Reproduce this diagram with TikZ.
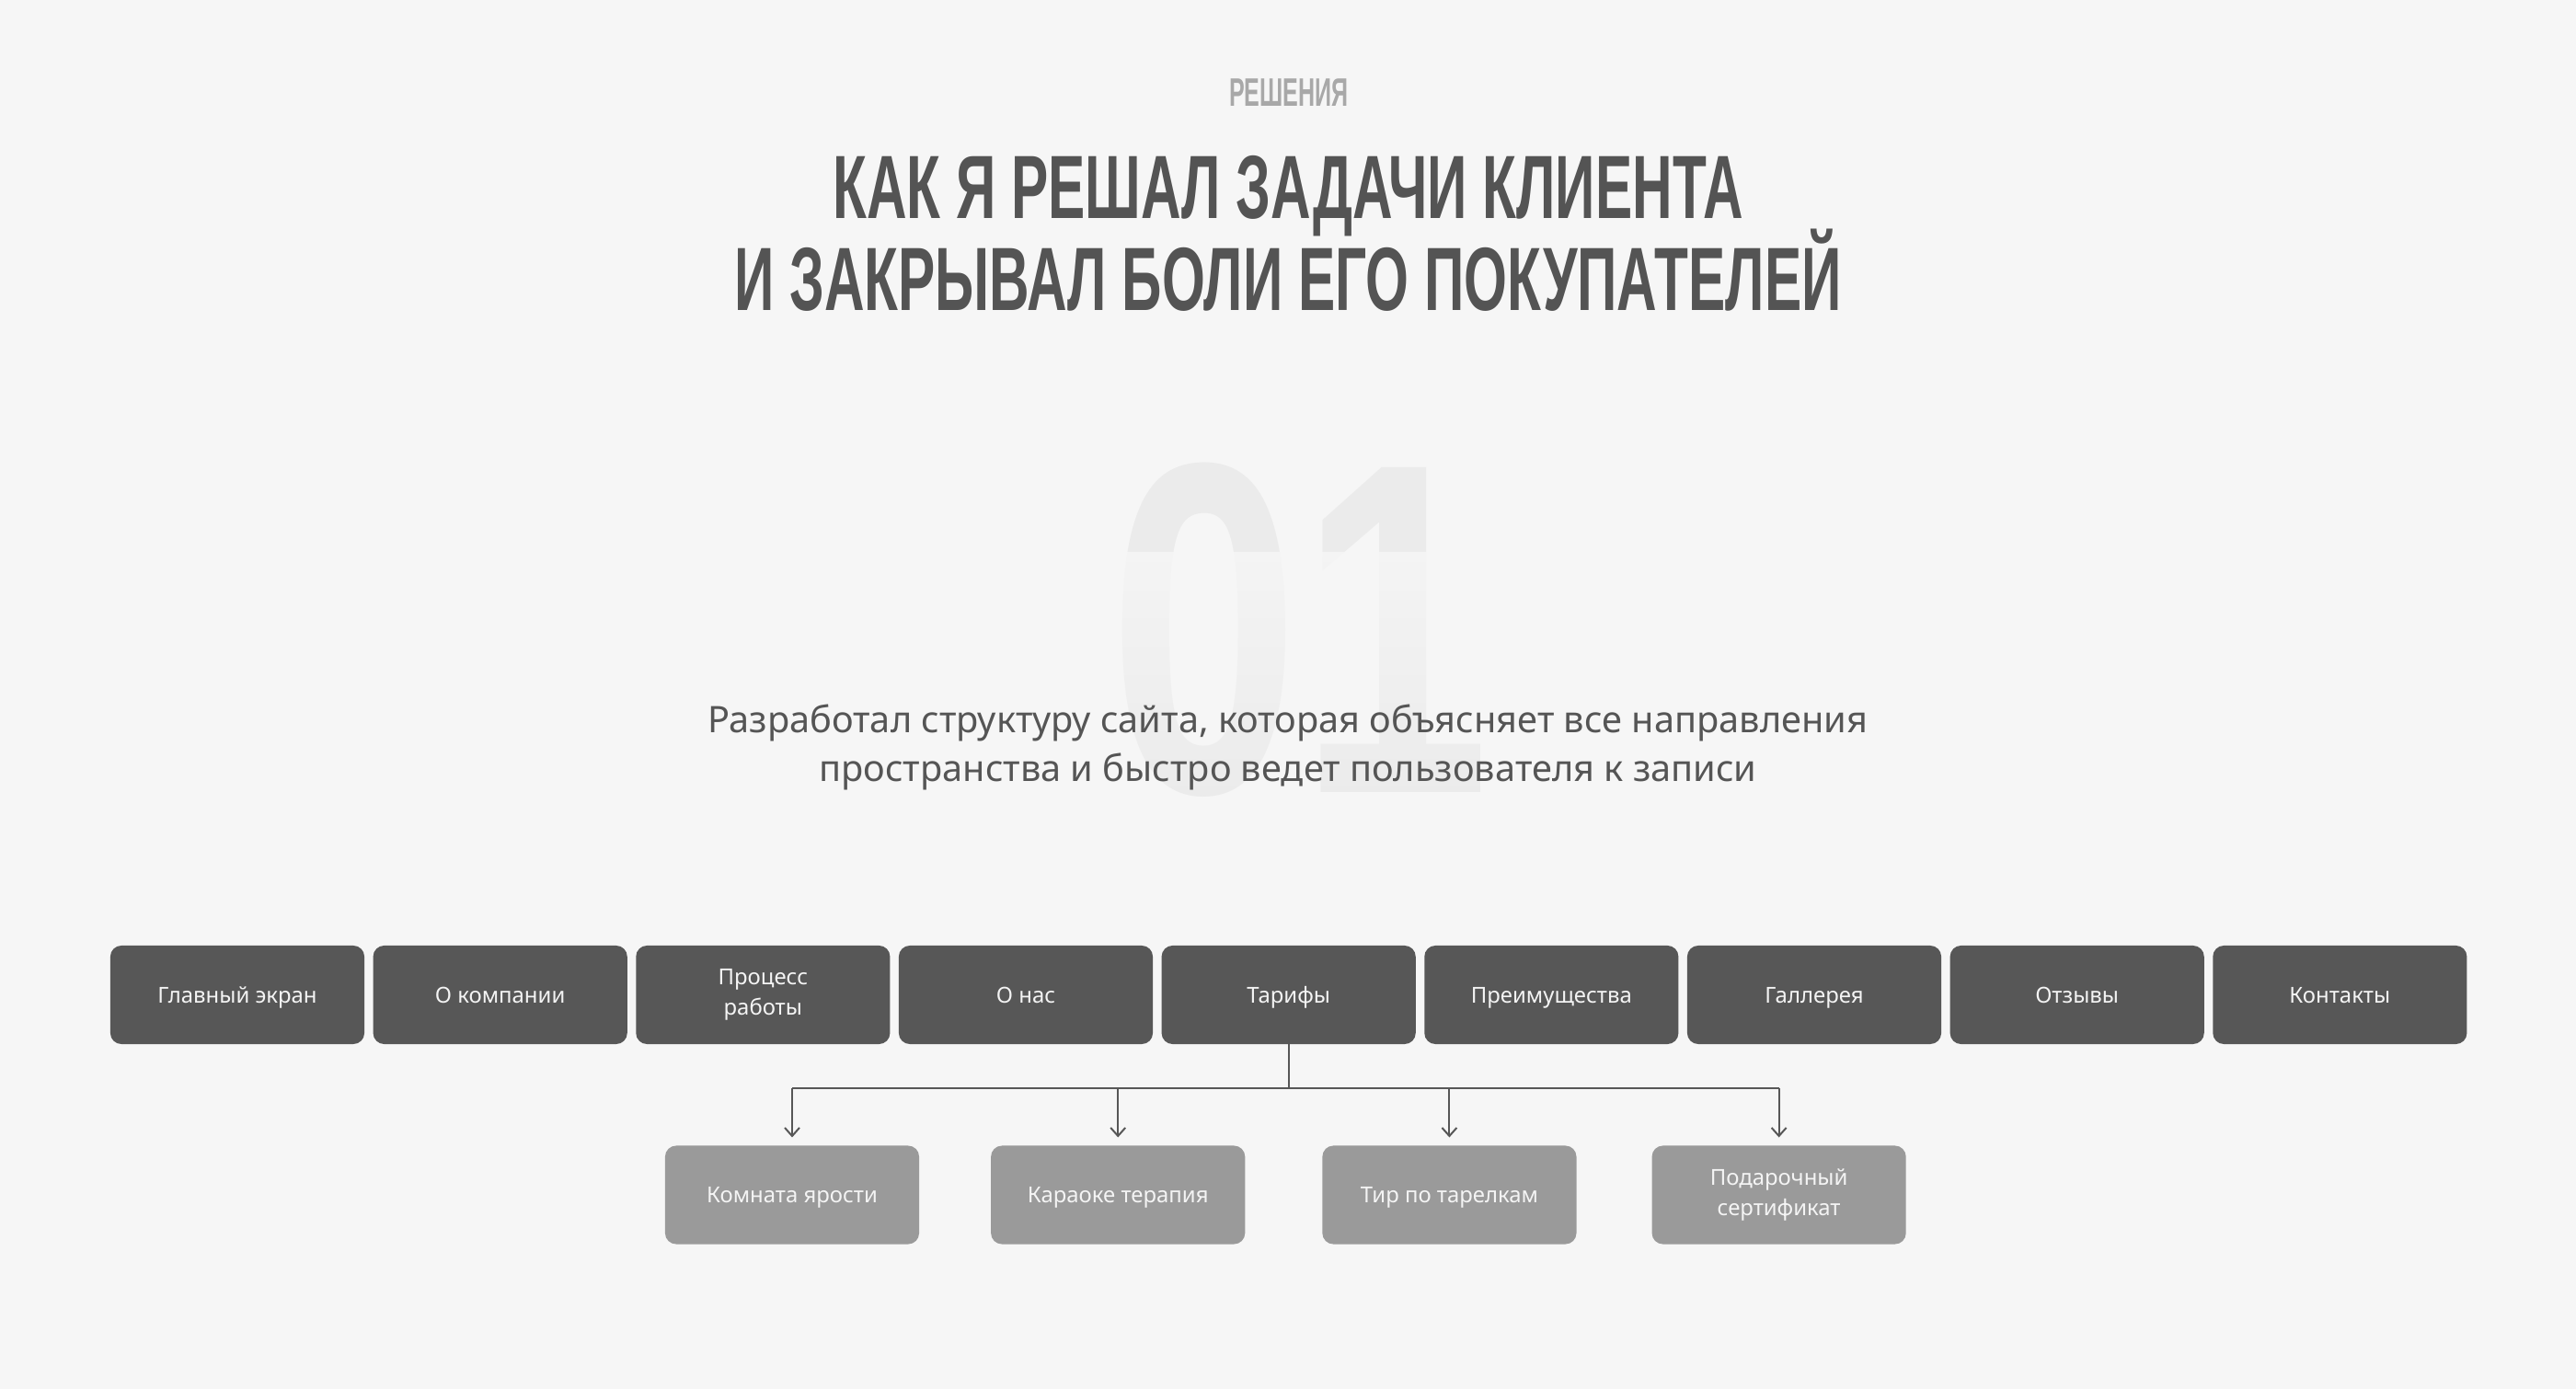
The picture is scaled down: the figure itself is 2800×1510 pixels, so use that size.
\documentclass[tikz,border=0pt]{standalone}
\usepackage{fontspec}
\setmainfont{Noto Sans}
\newfontfamily\headfont[FakeStretch=0.617]{Liberation Sans}
\newfontfamily\kickerfont[FakeStretch=0.58]{Liberation Sans}
\newfontfamily\numberfont[FakeStretch=0.726]{Liberation Sans}
\usetikzlibrary{positioning,arrows.meta,fadings}
\definecolor{pagebg}{HTML}{F6F6F6}
\definecolor{boxdark}{HTML}{575757}
\definecolor{boxlight}{HTML}{9A9A9A}
\definecolor{boxtext}{HTML}{F4F4F4}
\definecolor{heading}{HTML}{545454}
\definecolor{kicker}{HTML}{A8A8A8}
\definecolor{bignum}{HTML}{EBEBEB}
\definecolor{bodygrey}{HTML}{555555}
\definecolor{linkgrey}{HTML}{575757}

\tikzset{
  menubox/.style={draw=none, rectangle, rounded corners=0.12cm, fill=boxdark, text=boxtext, minimum width=2.76cm, minimum height=1.07cm, inner sep=0pt, outer sep=0pt, align=center, text height=0.171cm, text depth=0pt, font=\fontsize{6.8}{9.3}\selectfont},
  subbox/.style={menubox, fill=boxlight},
  twoline/.style={text height={}, text depth={}},
  link/.style={draw=linkgrey, line width=0.02cm},
  headline/.style={text=heading, anchor=base, inner sep=0pt, font=\headfont\bfseries\fontsize{27.8}{28.5}\selectfont},
  leadline/.style={text=bodygrey, anchor=base, inner sep=0pt, font=\fontsize{11.3}{15.1}\selectfont},
}

\begin{document}
\begin{tikzpicture}[x=0.01cm,y=-0.01cm]
                \fill[pagebg] (0,0) rectangle (2800,1510);
                \useasboundingbox (0,0) rectangle (2800,1510);
                % heading
                \node[text=kicker, anchor=base, inner sep=0pt, font=\kickerfont\bfseries\fontsize{12.3}{12.3}\selectfont] (Kicker) at (1401,116) {РЕШЕНИЯ};
                \node[headline] (TitleA) at (1400,238) {КАК Я РЕШАЛ ЗАДАЧИ КЛИЕНТА};
                \node[headline] (TitleB) at (1400,338) {И ЗАКРЫВАЛ БОЛИ ЕГО ПОКУПАТЕЛЕЙ};
                % big number behind the lead text
                \node[text=bignum, anchor=base, inner sep=0pt, font=\numberfont\bfseries\fontsize{146}{146}\selectfont] (Number) at (1413,862) {01};
                \fill[pagebg, fill opacity=0.85, path fading=south] (1150,600) rectangle (1650,885);
                \node[leadline] (LeadA) at (1400,797) {Разработал структуру сайта, которая объясняет все направления};
                \node[leadline] (LeadB) at (1400,850) {пространства и быстро ведет пользователя к записи};
                % site sections
                \node[menubox] (Glavny) at (258,1081.5) {Главный экран};
                \node[menubox, right=0.095cm of Glavny] (Kompaniya) {О компании};
                \node[menubox, twoline, right=0.095cm of Kompaniya] (Process) {Процесс\\работы};
                \node[menubox, right=0.095cm of Process] (Onas) {О нас};
                \node[menubox, right=0.095cm of Onas] (Tarify) {Тарифы};
                \node[menubox, right=0.095cm of Tarify] (Preim) {Преимущества};
                \node[menubox, right=0.095cm of Preim] (Gallery) {Галлерея};
                \node[menubox, right=0.095cm of Gallery] (Otzyvy) {Отзывы};
                \node[menubox, right=0.095cm of Otzyvy] (Kontakty) {Контакты};
                % tariffs
                \node[subbox] (Komnata) at (861,1299) {Комната ярости};
                \node[subbox, right=0.78cm of Komnata] (Karaoke) {Караоке терапия};
                \node[subbox, right=0.84cm of Karaoke] (Tir) {Тир по тарелкам};
                \node[subbox, twoline, right=0.82cm of Tir] (Podarok) {Подарочный\\сертификат};
                \coordinate (Split) at (Tarify.south |- 0,1183);
                \draw[link] (Tarify.south) -- (Split);
                \draw[link] (Komnata.north |- Split) -- (Podarok.north |- Split);
                \draw[link, -{Straight Barb[length=0.09cm,width=0.16cm]}, shorten >=0.09cm] (Komnata.north |- Split) -- (Komnata.north);
                \draw[link, -{Straight Barb[length=0.09cm,width=0.16cm]}, shorten >=0.09cm] (Karaoke.north |- Split) -- (Karaoke.north);
                \draw[link, -{Straight Barb[length=0.09cm,width=0.16cm]}, shorten >=0.09cm] (Tir.north |- Split) -- (Tir.north);
                \draw[link, -{Straight Barb[length=0.09cm,width=0.16cm]}, shorten >=0.09cm] (Podarok.north |- Split) -- (Podarok.north);
            \end{tikzpicture}
\end{document}
